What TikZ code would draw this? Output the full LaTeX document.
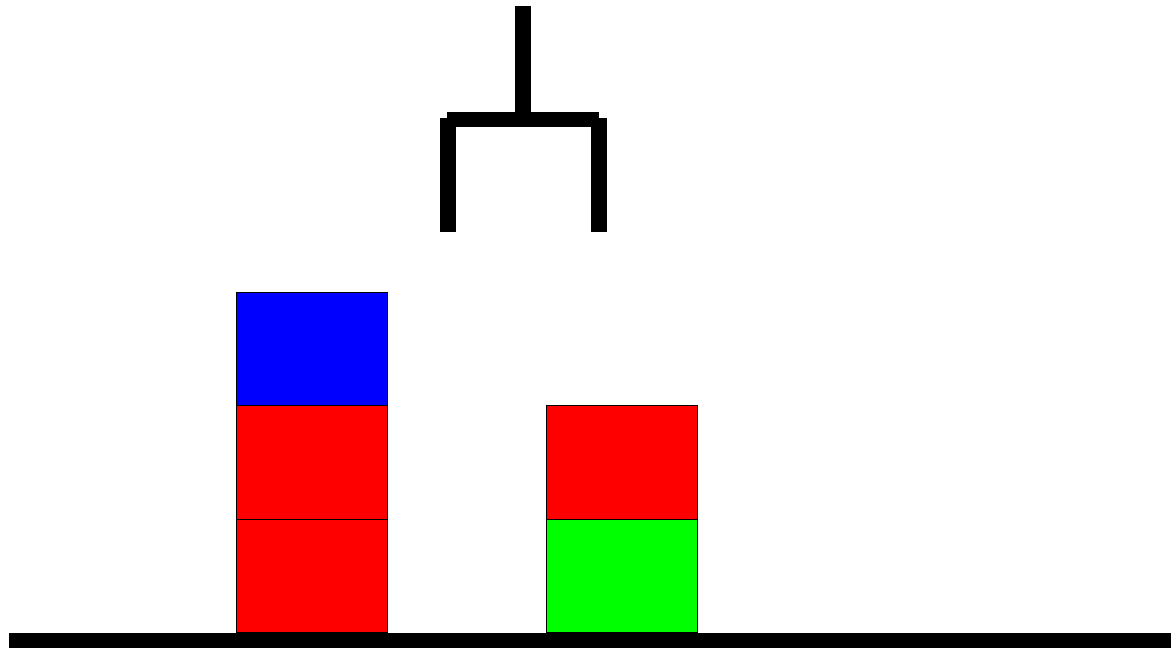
\documentclass[tikz,border=0pt]{standalone}
\usepackage{tikz}
\usetikzlibrary{positioning}
\tikzset{
block/.style={
	rectangle,
	minimum width=151pt,
	minimum height=113.5pt,
	inner sep=0pt,
	draw=black,
	line width=0.8pt,
	anchor=south west
},
gripper/.style={
	line width=16pt,
	line cap=butt,
	draw=black
},
ground/.style={
	fill=black
}
}
\begin{document}
\begin{tikzpicture}[x=1pt, y=-1pt]
\useasboundingbox (0,0) rectangle (1171,648);
% ===== Table =====
\fill [ground] (9,633) rectangle (1171,648);
% ===== Left stack (x = 236) =====
\node (lbot) [block, fill=red]  at (236, 633)   {};
\node (lmid) [block, fill=red]  at (236, 519.5) {};
\node (ltop) [block, fill=blue] at (236, 406)   {};
% ===== Right stack (x = 546) =====
\node (rbot) [block, fill=green] at (546, 633)   {};
\node (rtop) [block, fill=red]   at (546, 519.5) {};
% ===== Gripper =====
\draw [gripper] (523,6)   -- (523,119);
\draw [gripper, line width=15pt] (447,119.5) -- (599,119.5);
\draw [gripper] (448,118) -- (448,232);
\draw [gripper] (599,118) -- (599,232);
\end{tikzpicture}
\end{document}
